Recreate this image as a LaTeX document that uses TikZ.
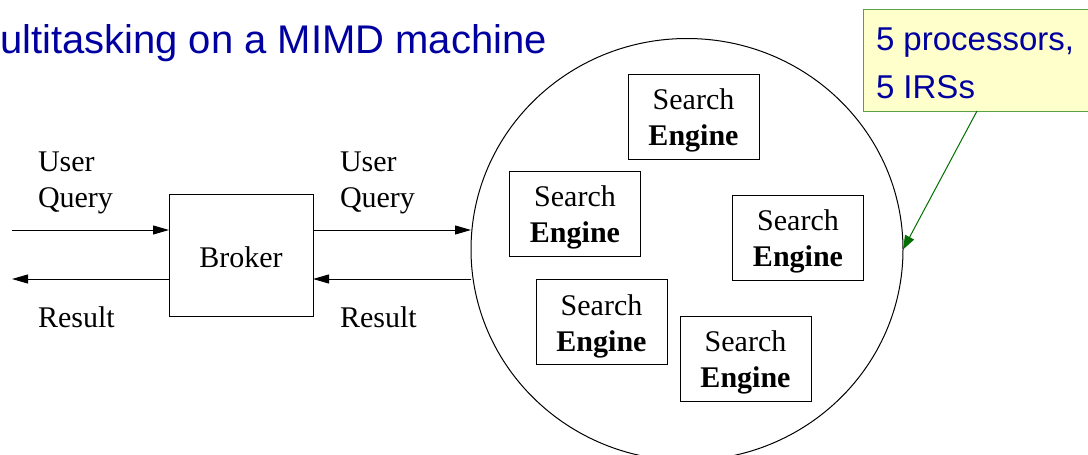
\documentclass[tikz,border=0pt]{standalone}
\usepackage{fontspec}
\setmainfont{Liberation Serif}
\newfontfamily\arialfont{Liberation Sans}
\usetikzlibrary{arrows.meta,shapes.geometric}
\definecolor{titleblue}{RGB}{0,0,160}
\definecolor{noteyellow}{RGB}{255,255,204}
\definecolor{noteborder}{RGB}{90,160,70}
\definecolor{notearrow}{RGB}{0,110,0}
\newcommand{\setext}{\rule{0pt}{29.5pt}Search\\\textbf{Engine}}
\begin{document}
\begin{tikzpicture}[x=1pt,y=-1pt,
  every node/.style={inner sep=0pt, outer sep=0pt},
  lbl/.style={font=\fontsize{30}{36}\selectfont, align=left, anchor=base west},
  engine/.style={draw, line width=1pt, minimum width=131pt, minimum height=85pt, align=center, font=\fontsize{30}{36}\selectfont},
  arr/.style={line width=1pt, -{Triangle[length=16pt,width=9pt]}},
  notearr/.style={draw=notearrow, line width=1pt, -{Triangle[length=14pt,width=10pt]}}
]
\useasboundingbox (0,0) rectangle (1088,455);
\clip (0,0) rectangle (1088,455);

\node[anchor=base west, text=titleblue, font=\arialfont\fontsize{40}{48}\selectfont] (title) at (0,53) {ultitasking on a MIMD machine};

\node[draw, ellipse, line width=1pt, minimum width=432pt, minimum height=422pt] (cloud) at (687,249.5) {};

\node[engine] (se1) at (693.5,116.5) {\setext};
\node[engine] (se2) at (575,213.5) {\setext};
\node[engine] (se3) at (798,237.5) {\setext};
\node[engine] (se4) at (601.5,322) {\setext};
\node[engine] (se5) at (745.5,358.5) {\setext};

\node[draw, line width=1pt, minimum width=144pt, minimum height=122pt] (broker) at (241,255) {};
\node[anchor=base, font=\fontsize{30}{36}\selectfont] (brokertext) at (241,267) {Broker};

\coordinate (inL) at (12,230);
\coordinate (outL) at (12,279);
\draw[arr] (inL) -- (inL -| broker.west);
\draw[arr] (broker.west |- outL) -- (outL);
\draw[arr] (broker.east |- inL) -- (cloud.west |- inL);
\draw[arr] (cloud.west |- outL) -- (broker.east |- outL);

\node[lbl] (uq1) at (38,207) {User\\Query};
\node[lbl] (res1) at (38,327) {Result};
\node[lbl] (uq2) at (340,207) {User\\Query};
\node[lbl] (res2) at (340,327) {Result};

\node[draw=noteborder, fill=noteyellow, line width=1pt, anchor=north west, minimum width=240pt, minimum height=102pt] (note) at (863,9) {};
\node[anchor=base west, text=titleblue, font=\arialfont\fontsize{33}{48}\selectfont, align=left] (notetext) at (876,98) {5 processors,\\5 IRSs};
\draw[notearr] ([xshift=-6pt]note.south) -- (cloud.east);
\end{tikzpicture}
\end{document}
